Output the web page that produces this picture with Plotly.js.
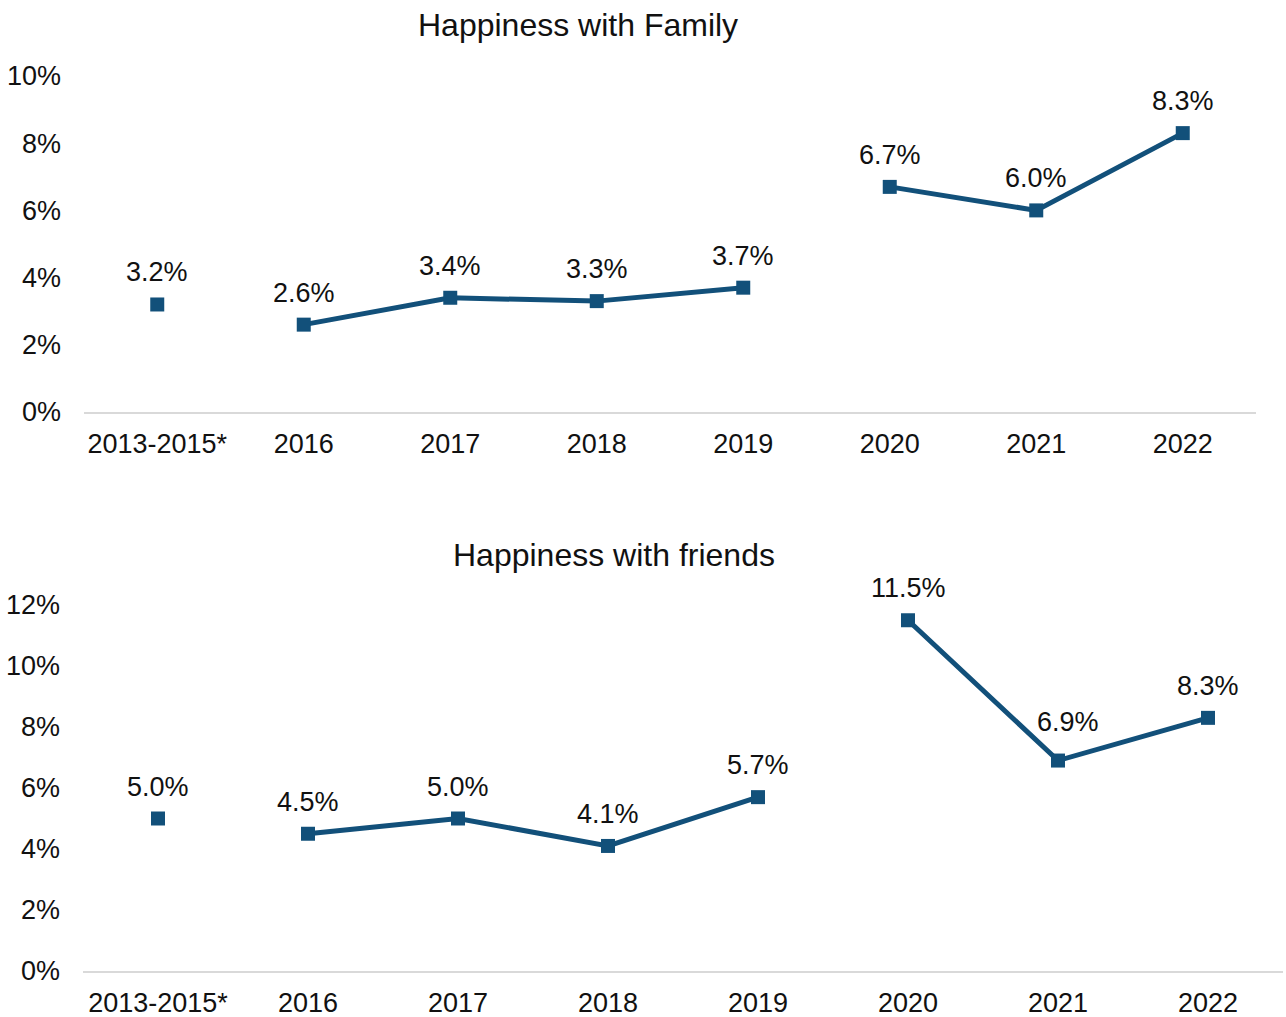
<!DOCTYPE html>
<html>
<head>
<meta charset="utf-8">
<script src="https://cdn.plot.ly/plotly-3.0.1.min.js"></script>
<style>html,body{margin:0;padding:0;background:#fff;}#chart{width:1286px;height:1017px;}</style>
</head>
<body>
<div id="chart"></div>
<script>
// ---- data ----
const categories = ['2013-2015*', '2016', '2017', '2018', '2019', '2020', '2021', '2022'];
const familyValues = [3.2, 2.6, 3.4, 3.3, 3.7, 6.7, 6.0, 8.3];
const friendsValues = [5.0, 4.5, 5.0, 4.1, 5.7, 11.5, 6.9, 8.3];
const segments = [[0], [1, 2, 3, 4], [5, 6, 7]]; // connected runs of points
const familyTitle = 'Happiness with Family';
const friendsTitle = 'Happiness with friends';
const familyTicks = [0, 2, 4, 6, 8, 10];
const friendsTicks = [0, 2, 4, 6, 8, 10, 12];

// ---- styling ----
const COLOR = '#12507a';
const FONT = 'Liberation Sans, Arial, sans-serif';
const TXT = '#111111';
const TICKSIZE = 27;
// label placement tweaks (pixels), keyed by point index
const familyNudge = {};
const friendsNudge = {6: {x: 10, y: 39}};

function seriesTraces(vals, xa, ya) {
  return segments.map(seg => ({
    type: 'scatter', mode: 'lines+markers',
    x: seg.map(i => i), y: seg.map(i => vals[i]),
    xaxis: xa, yaxis: ya,
    line: {color: COLOR, width: 5},
    marker: {symbol: 'square', size: 14, color: COLOR},
    hoverinfo: 'skip', showlegend: false
  }));
}
function labels(vals, xa, ya, nudge) {
  return vals.map((v, i) => {
    const n = nudge[i] || {x: 0, y: 32};
    return {
      x: i, y: v, xref: xa, yref: ya,
      text: v.toFixed(1) + '%', showarrow: false,
      xshift: n.x, yshift: n.y, font: {family: FONT, size: TICKSIZE, color: TXT}
    };
  });
}

const data = [].concat(seriesTraces(familyValues, 'x', 'y'), seriesTraces(friendsValues, 'x2', 'y2'));

const xCommon = {
  type: 'linear', range: [-0.5, 7.5], showgrid: false, zeroline: false,
  showline: true, linecolor: '#d9d9d9', linewidth: 2, ticks: '',
  tickmode: 'array', tickvals: categories.map((c, i) => i), ticktext: categories,
  tickfont: {family: FONT, size: TICKSIZE, color: TXT}, ticklabelstandoff: 7, fixedrange: true
};
const yCommon = {
  showgrid: false, zeroline: false, showline: false, ticks: '',
  tickmode: 'array',
  tickfont: {family: FONT, size: TICKSIZE, color: TXT}, ticklabelstandoff: 22, fixedrange: true
};

const layout = {
  width: 1286, height: 1017,
  margin: {l: 0, r: 0, t: 0, b: 0},
  paper_bgcolor: '#fff', plot_bgcolor: '#fff',
  font: {family: FONT, color: TXT},
  showlegend: false,
  xaxis: Object.assign({}, xCommon, {domain: [84/1286, 1256/1286], anchor: 'y'}),
  yaxis: Object.assign({}, yCommon, {domain: [1 - 412/1017, 1 - 76/1017], range: [0, 10],
    tickvals: familyTicks, ticktext: familyTicks.map(t => t + '%'), anchor: 'x'}),
  xaxis2: Object.assign({}, xCommon, {domain: [83/1286, 1283/1286], anchor: 'y2'}),
  yaxis2: Object.assign({}, yCommon, {domain: [1 - 971/1017, 1 - 605/1017], range: [0, 12],
    tickvals: friendsTicks, ticktext: friendsTicks.map(t => t + '%'), anchor: 'x2'}),
  annotations: [].concat(
    labels(familyValues, 'x', 'y', familyNudge),
    labels(friendsValues, 'x2', 'y2', friendsNudge),
    [
      {text: familyTitle, xref: 'paper', yref: 'paper', x: 578/1286, y: 1 - 25/1017, showarrow: false,
       xanchor: 'center', yanchor: 'middle', font: {family: FONT, size: 32, color: TXT}},
      {text: friendsTitle, xref: 'paper', yref: 'paper', x: 614/1286, y: 1 - 555/1017, showarrow: false,
       xanchor: 'center', yanchor: 'middle', font: {family: FONT, size: 32, color: TXT}}
    ]
  )
};

Plotly.newPlot('chart', data, layout, {staticPlot: true, displayModeBar: false});
</script>
</body>
</html>
